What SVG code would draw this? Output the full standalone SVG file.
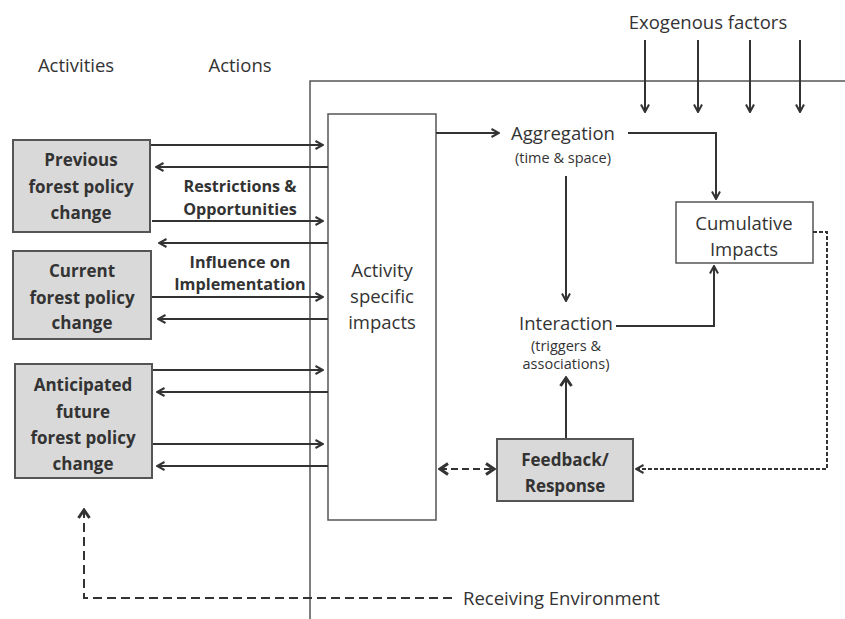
<svg xmlns="http://www.w3.org/2000/svg" width="845" height="619" viewBox="0 0 845 619">
<style>
text{font-family:"Open Sans","Liberation Sans",sans-serif;fill:#333;text-anchor:middle}
.b{font-weight:bold;font-size:17px}
.bl{font-weight:bold;font-size:16.2px}
.r{font-size:18.5px}
.s{font-size:14.5px}
.ln{fill:none;stroke:#333;stroke-width:2}
.box{fill:#d9d9d9;stroke:#555;stroke-width:2}
.wbox{fill:#fff;stroke:#555;stroke-width:1.5}
</style>
<defs>
<marker id="ah" viewBox="0 0 10 10" refX="9" refY="5" markerWidth="10" markerHeight="10" markerUnits="userSpaceOnUse" orient="auto-start-reverse">
<path d="M1.5,1 L9,5 L1.5,9" fill="none" stroke="#333" stroke-width="2"/>
</marker>
<marker id="ahb" viewBox="0 0 12 14" refX="10" refY="7" markerWidth="12" markerHeight="14" markerUnits="userSpaceOnUse" orient="auto-start-reverse">
<path d="M2,1.5 L10,7 L2,12.5" fill="none" stroke="#333" stroke-width="3"/>
</marker>
</defs>
<rect width="845" height="619" fill="#fff"/>
<g id="boundary">
<path d="M310,619 V81 H845" fill="none" stroke="#555" stroke-width="1.5"/>
</g>
<g id="labels">
<text class="r" x="76" y="72">Activities</text>
<text class="r" x="240" y="72">Actions</text>
<text class="r" x="708" y="29">Exogenous factors</text>
<text class="bl" x="240" y="192">Restrictions &amp;</text>
<text class="bl" x="240" y="215">Opportunities</text>
<text class="bl" x="240" y="268">Influence on</text>
<text class="bl" x="240" y="290">Implementation</text>
<text class="r" x="463" y="605" style="text-anchor:start">Receiving Environment</text>
</g>
<g id="previous">
<rect class="box" x="13" y="140" width="137" height="92"/>
<text class="b" x="81" y="166">Previous</text>
<text class="b" x="81" y="193">forest policy</text>
<text class="b" x="81" y="219">change</text>
</g>
<g id="current">
<rect class="box" x="13" y="251" width="138" height="88"/>
<text class="b" x="82" y="277">Current</text>
<text class="b" x="82" y="304">forest policy</text>
<text class="b" x="82" y="329">change</text>
</g>
<g id="anticipated">
<rect class="box" x="15" y="364" width="137" height="114"/>
<text class="b" x="83" y="391">Anticipated</text>
<text class="b" x="83" y="418">future</text>
<text class="b" x="83" y="444">forest policy</text>
<text class="b" x="83" y="470">change</text>
</g>
<g id="activity">
<rect class="wbox" x="328" y="114" width="108" height="406"/>
<text class="r" x="382" y="277">Activity</text>
<text class="r" x="382" y="303">specific</text>
<text class="r" x="382" y="329">impacts</text>
</g>
<g id="aggregation">
<text class="r" x="563" y="140">Aggregation</text>
<text class="s" x="563" y="163">(time &amp; space)</text>
</g>
<g id="interaction">
<text class="r" x="566" y="330">Interaction</text>
<text class="s" x="566" y="351">(triggers &amp;</text>
<text class="s" x="566" y="369">associations)</text>
</g>
<g id="cumulative">
<rect class="wbox" x="676" y="202" width="137" height="61"/>
<text class="r" x="744" y="230">Cumulative</text>
<text class="r" x="744" y="256">Impacts</text>
</g>
<g id="feedback">
<rect class="box" x="497" y="439" width="136" height="62"/>
<text class="b" x="565" y="466">Feedback/</text>
<text class="b" x="565" y="492">Response</text>
</g>
<g id="connectors">
<path class="ln" d="M645,40 V112" marker-end="url(#ah)"/>
<path class="ln" d="M698,40 V112" marker-end="url(#ah)"/>
<path class="ln" d="M750,40 V112" marker-end="url(#ah)"/>
<path class="ln" d="M800,40 V112" marker-end="url(#ah)"/>
<path class="ln" d="M151,145 H323" marker-end="url(#ah)"/>
<path class="ln" d="M328,167 H156" marker-end="url(#ah)"/>
<path class="ln" d="M152,221 H323" marker-end="url(#ah)"/>
<path class="ln" d="M328,243 H159" marker-end="url(#ah)"/>
<path class="ln" d="M152,297 H323" marker-end="url(#ah)"/>
<path class="ln" d="M328,319 H158" marker-end="url(#ah)"/>
<path class="ln" d="M153,370 H323" marker-end="url(#ah)"/>
<path class="ln" d="M328,392 H157" marker-end="url(#ah)"/>
<path class="ln" d="M153,444 H323" marker-end="url(#ah)"/>
<path class="ln" d="M328,466 H157" marker-end="url(#ah)"/>
<path class="ln" d="M436,133 H499" marker-end="url(#ah)"/>
<path class="ln" d="M628,133 H716 V199" marker-end="url(#ah)"/>
<path class="ln" d="M566,176 V301" marker-end="url(#ah)"/>
<path class="ln" d="M616,326 H714 V266" marker-end="url(#ah)"/>
<path class="ln" d="M566,438 V378" stroke-width="3.5" marker-end="url(#ahb)"/>
<path class="ln" d="M440,469 H494" stroke-width="3" stroke-dasharray="7,4" marker-start="url(#ahb)" marker-end="url(#ahb)"/>
<path class="ln" d="M813,232 H827 V469 H636" stroke-dasharray="4,2" marker-end="url(#ah)"/>
<path class="ln" d="M452,598 H84 V510" stroke-width="3" stroke-dasharray="9,5" marker-end="url(#ahb)"/>
</g>
</svg>
